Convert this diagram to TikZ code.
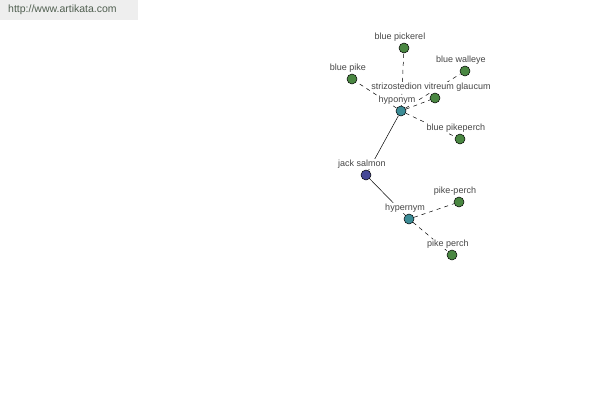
\documentclass[tikz,border=0pt]{standalone}
\usepackage{fontspec}
\setmainfont{Liberation Sans}
\usetikzlibrary{backgrounds}

\definecolor{leafgreen}{RGB}{74,135,66}
\definecolor{relteal}{RGB}{60,140,150}
\definecolor{rootblue}{RGB}{70,72,150}
\definecolor{lblgray}{RGB}{70,70,70}
\definecolor{sitegray}{RGB}{238,238,238}
\definecolor{sitetext}{RGB}{80,95,80}

\begin{document}
\begin{tikzpicture}[x=1pt,y=-1pt,
      every node/.style={font=\fontsize{9}{10}\selectfont},
      word/.style={shape=circle,draw=black,line width=0.5pt,inner sep=0pt,minimum size=10pt,
        label={[lbl]above:#1}},
      lbl/.style={text=lblgray,fill=white,inner sep=0.6pt,label distance=0.8pt,xshift=-4pt},
      leaf/.style={word=#1,fill=leafgreen},
      rel/.style={word=#1,fill=relteal},
      solidlink/.style={draw=black,line width=0.5pt},
      dashlink/.style={draw=black,line width=0.5pt,dash pattern=on 4pt off 4pt}]
  \useasboundingbox (0,0) rectangle (600,400);
  \fill[sitegray] (0,0) rectangle (138,20);
  \node[anchor=west,font=\fontsize{10.5}{12}\selectfont,text=sitetext,inner sep=0pt] (site) at (8,10) {http://www.artikata.com};

  \node[word=jack salmon,fill=rootblue] (jack) at (366,175) {};
  \node[rel=hyponym] (hypo) at (401,111) {};
  \node[rel=hypernym] (hyper) at (409,219) {};

  \node[leaf=blue pickerel] (pickerel) at (404,48) {};
  \node[leaf=blue pike] (bpike) at (352,79) {};
  \node[leaf=blue walleye] (walleye) at (465,71) {};
  \node[leaf=strizostedion vitreum glaucum] (glaucum) at (435,98) {};
  \node[leaf=blue pikeperch] (bpikeperch) at (460,139) {};
  \node[leaf=pike-perch] (pikeperch) at (459,202) {};
  \node[leaf=pike perch] (pperch) at (452,255) {};

  \begin{pgfonlayer}{background}
    \draw[solidlink] (jack) -- (hypo);
    \draw[solidlink] (jack) -- (hyper);
    \foreach \w in {pickerel,bpike,walleye,glaucum,bpikeperch}
      \draw[dashlink] (hypo) -- (\w);
    \foreach \w in {pikeperch,pperch}
      \draw[dashlink] (hyper) -- (\w);
  \end{pgfonlayer}
\end{tikzpicture}
\end{document}
